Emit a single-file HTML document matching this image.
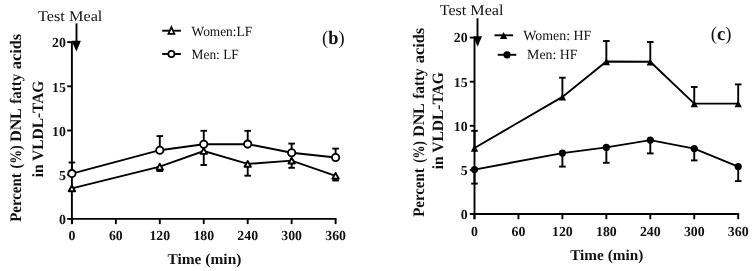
<!DOCTYPE html>
<html><head><meta charset="utf-8"><style>
html,body{margin:0;padding:0;background:#fff;}
body{width:752px;height:271px;overflow:hidden;}
svg{display:block;will-change:transform;text-rendering:geometricPrecision;font-family:"Liberation Serif",serif;}
text{fill:#111;}
</style></head><body>
<svg width="752" height="271" viewBox="0 0 752 271">
<rect width="752" height="271" fill="#fff"/>
<line x1="71.90" y1="42.10" x2="71.90" y2="224.10" stroke="#000" stroke-width="1.9"/>
<line x1="70.95" y1="218.90" x2="336.55" y2="218.90" stroke="#000" stroke-width="1.9"/>
<line x1="67.20" y1="218.90" x2="71.90" y2="218.90" stroke="#000" stroke-width="1.9"/>
<text x="65.90" y="224.20" font-size="13.8" font-weight="bold" text-anchor="end">0</text>
<line x1="67.20" y1="174.70" x2="71.90" y2="174.70" stroke="#000" stroke-width="1.9"/>
<text x="65.90" y="180.00" font-size="13.8" font-weight="bold" text-anchor="end">5</text>
<line x1="67.20" y1="130.50" x2="71.90" y2="130.50" stroke="#000" stroke-width="1.9"/>
<text x="65.90" y="135.80" font-size="13.8" font-weight="bold" text-anchor="end">10</text>
<line x1="67.20" y1="86.30" x2="71.90" y2="86.30" stroke="#000" stroke-width="1.9"/>
<text x="65.90" y="91.60" font-size="13.8" font-weight="bold" text-anchor="end">15</text>
<line x1="67.20" y1="42.10" x2="71.90" y2="42.10" stroke="#000" stroke-width="1.9"/>
<text x="65.90" y="47.40" font-size="13.8" font-weight="bold" text-anchor="end">20</text>
<line x1="71.90" y1="218.90" x2="71.90" y2="224.10" stroke="#000" stroke-width="1.9"/>
<text x="71.90" y="240.40" font-size="13.8" font-weight="bold" text-anchor="middle">0</text>
<line x1="115.85" y1="218.90" x2="115.85" y2="224.10" stroke="#000" stroke-width="1.9"/>
<text x="115.85" y="240.40" font-size="13.8" font-weight="bold" text-anchor="middle">60</text>
<line x1="159.80" y1="218.90" x2="159.80" y2="224.10" stroke="#000" stroke-width="1.9"/>
<text x="159.80" y="240.40" font-size="13.8" font-weight="bold" text-anchor="middle">120</text>
<line x1="203.75" y1="218.90" x2="203.75" y2="224.10" stroke="#000" stroke-width="1.9"/>
<text x="203.75" y="240.40" font-size="13.8" font-weight="bold" text-anchor="middle">180</text>
<line x1="247.70" y1="218.90" x2="247.70" y2="224.10" stroke="#000" stroke-width="1.9"/>
<text x="247.70" y="240.40" font-size="13.8" font-weight="bold" text-anchor="middle">240</text>
<line x1="291.65" y1="218.90" x2="291.65" y2="224.10" stroke="#000" stroke-width="1.9"/>
<text x="291.65" y="240.40" font-size="13.8" font-weight="bold" text-anchor="middle">300</text>
<line x1="335.60" y1="218.90" x2="335.60" y2="224.10" stroke="#000" stroke-width="1.9"/>
<text x="335.60" y="240.40" font-size="13.8" font-weight="bold" text-anchor="middle">360</text>
<line x1="159.80" y1="166.70" x2="159.80" y2="171.00" stroke="#000" stroke-width="1.9"/>
<line x1="156.50" y1="171.00" x2="163.10" y2="171.00" stroke="#000" stroke-width="1.9"/>
<line x1="203.75" y1="151.00" x2="203.75" y2="165.00" stroke="#000" stroke-width="1.9"/>
<line x1="200.45" y1="165.00" x2="207.05" y2="165.00" stroke="#000" stroke-width="1.9"/>
<line x1="247.70" y1="163.90" x2="247.70" y2="175.70" stroke="#000" stroke-width="1.9"/>
<line x1="244.40" y1="175.70" x2="251.00" y2="175.70" stroke="#000" stroke-width="1.9"/>
<line x1="291.65" y1="160.60" x2="291.65" y2="167.80" stroke="#000" stroke-width="1.9"/>
<line x1="288.35" y1="167.80" x2="294.95" y2="167.80" stroke="#000" stroke-width="1.9"/>
<line x1="335.60" y1="175.80" x2="335.60" y2="180.50" stroke="#000" stroke-width="1.9"/>
<line x1="332.30" y1="180.50" x2="338.90" y2="180.50" stroke="#000" stroke-width="1.9"/>
<polyline points="71.90,188.40 159.80,166.70 203.75,151.00 247.70,163.90 291.65,160.60 335.60,175.80" fill="none" stroke="#000" stroke-width="1.9" stroke-linejoin="miter"/>
<polygon points="71.90,185.50 75.10,191.30 68.70,191.30" fill="#fff" stroke="#000" stroke-width="1.9" stroke-linejoin="round"/>
<polygon points="159.80,163.80 163.00,169.60 156.60,169.60" fill="#fff" stroke="#000" stroke-width="1.9" stroke-linejoin="round"/>
<polygon points="203.75,148.10 206.95,153.90 200.55,153.90" fill="#fff" stroke="#000" stroke-width="1.9" stroke-linejoin="round"/>
<polygon points="247.70,161.00 250.90,166.80 244.50,166.80" fill="#fff" stroke="#000" stroke-width="1.9" stroke-linejoin="round"/>
<polygon points="291.65,157.70 294.85,163.50 288.45,163.50" fill="#fff" stroke="#000" stroke-width="1.9" stroke-linejoin="round"/>
<polygon points="335.60,172.90 338.80,178.70 332.40,178.70" fill="#fff" stroke="#000" stroke-width="1.9" stroke-linejoin="round"/>
<line x1="71.90" y1="173.60" x2="71.90" y2="162.50" stroke="#000" stroke-width="1.9"/>
<line x1="68.60" y1="162.50" x2="75.20" y2="162.50" stroke="#000" stroke-width="1.9"/>
<line x1="159.80" y1="150.20" x2="159.80" y2="136.10" stroke="#000" stroke-width="1.9"/>
<line x1="156.50" y1="136.10" x2="163.10" y2="136.10" stroke="#000" stroke-width="1.9"/>
<line x1="203.75" y1="144.20" x2="203.75" y2="130.80" stroke="#000" stroke-width="1.9"/>
<line x1="200.45" y1="130.80" x2="207.05" y2="130.80" stroke="#000" stroke-width="1.9"/>
<line x1="247.70" y1="144.10" x2="247.70" y2="130.80" stroke="#000" stroke-width="1.9"/>
<line x1="244.40" y1="130.80" x2="251.00" y2="130.80" stroke="#000" stroke-width="1.9"/>
<line x1="291.65" y1="152.70" x2="291.65" y2="143.60" stroke="#000" stroke-width="1.9"/>
<line x1="288.35" y1="143.60" x2="294.95" y2="143.60" stroke="#000" stroke-width="1.9"/>
<line x1="335.60" y1="157.50" x2="335.60" y2="148.60" stroke="#000" stroke-width="1.9"/>
<line x1="332.30" y1="148.60" x2="338.90" y2="148.60" stroke="#000" stroke-width="1.9"/>
<polyline points="71.90,173.60 159.80,150.20 203.75,144.20 247.70,144.10 291.65,152.70 335.60,157.50" fill="none" stroke="#000" stroke-width="1.9" stroke-linejoin="miter"/>
<circle cx="71.90" cy="173.60" r="3.65" fill="#fff" stroke="#000" stroke-width="1.85"/>
<circle cx="159.80" cy="150.20" r="3.65" fill="#fff" stroke="#000" stroke-width="1.85"/>
<circle cx="203.75" cy="144.20" r="3.65" fill="#fff" stroke="#000" stroke-width="1.85"/>
<circle cx="247.70" cy="144.10" r="3.65" fill="#fff" stroke="#000" stroke-width="1.85"/>
<circle cx="291.65" cy="152.70" r="3.65" fill="#fff" stroke="#000" stroke-width="1.85"/>
<circle cx="335.60" cy="157.50" r="3.65" fill="#fff" stroke="#000" stroke-width="1.85"/>
<line x1="76.50" y1="23.40" x2="76.50" y2="42.00" stroke="#000" stroke-width="1.9"/>
<polygon points="71.6,40.8 80.9,40.8 76.4,51.5" fill="#000"/>
<text x="38.00" y="20.60" font-size="15" font-weight="normal" text-anchor="start" textLength="64.4" lengthAdjust="spacingAndGlyphs">Test Meal</text>
<line x1="162.20" y1="30.70" x2="180.90" y2="30.70" stroke="#000" stroke-width="1.9"/>
<polygon points="171.4,27.2 174.4,33.9 168.4,33.9" fill="#fff" stroke="#000" stroke-width="1.7"/>
<line x1="162.20" y1="54.00" x2="180.90" y2="54.00" stroke="#000" stroke-width="1.9"/>
<circle cx="171.4" cy="54.0" r="3.1" fill="#fff" stroke="#000" stroke-width="1.7"/>
<text x="191.60" y="35.60" font-size="14" font-weight="normal" text-anchor="start" textLength="60.5" lengthAdjust="spacingAndGlyphs">Women:LF</text>
<text x="191.60" y="59.10" font-size="14" font-weight="normal" text-anchor="start" textLength="47.2" lengthAdjust="spacingAndGlyphs">Men: LF</text>
<text x="322.1" y="44.3" font-size="19" textLength="22.4" lengthAdjust="spacingAndGlyphs">(<tspan font-weight="bold">b</tspan>)</text>
<text x="167.40" y="264.30" font-size="15" font-weight="bold" text-anchor="start" textLength="74.0" lengthAdjust="spacingAndGlyphs">Time (min)</text>
<text transform="translate(20.5,221.78) rotate(-90)" font-size="16.1" font-weight="bold" textLength="48.49" lengthAdjust="spacingAndGlyphs">Percent</text>
<text transform="translate(20.5,168.39) rotate(-90)" font-size="16.1" font-weight="bold" textLength="23.13" lengthAdjust="spacingAndGlyphs">(%)</text>
<text transform="translate(20.5,141.81) rotate(-90)" font-size="16.1" font-weight="bold" textLength="33.53" lengthAdjust="spacingAndGlyphs">DNL</text>
<text transform="translate(20.5,103.78) rotate(-90)" font-size="16.1" font-weight="bold" textLength="29.98" lengthAdjust="spacingAndGlyphs">fatty</text>
<text transform="translate(20.5,69.30) rotate(-90)" font-size="16.1" font-weight="bold" textLength="35.50" lengthAdjust="spacingAndGlyphs">acids</text>
<text transform="translate(42.5,177.3) rotate(-90)" font-size="15.8" font-weight="bold" textLength="96.6" lengthAdjust="spacingAndGlyphs">in VLDL-TAG</text>
<line x1="474.50" y1="37.60" x2="474.50" y2="219.20" stroke="#000" stroke-width="1.9"/>
<line x1="473.55" y1="214.00" x2="739.15" y2="214.00" stroke="#000" stroke-width="1.9"/>
<line x1="469.80" y1="214.00" x2="474.50" y2="214.00" stroke="#000" stroke-width="1.9"/>
<text x="467.60" y="218.80" font-size="13.8" font-weight="bold" text-anchor="end">0</text>
<line x1="469.80" y1="169.90" x2="474.50" y2="169.90" stroke="#000" stroke-width="1.9"/>
<text x="467.60" y="174.70" font-size="13.8" font-weight="bold" text-anchor="end">5</text>
<line x1="469.80" y1="125.80" x2="474.50" y2="125.80" stroke="#000" stroke-width="1.9"/>
<text x="467.60" y="130.60" font-size="13.8" font-weight="bold" text-anchor="end">10</text>
<line x1="469.80" y1="81.70" x2="474.50" y2="81.70" stroke="#000" stroke-width="1.9"/>
<text x="467.60" y="86.50" font-size="13.8" font-weight="bold" text-anchor="end">15</text>
<line x1="469.80" y1="37.60" x2="474.50" y2="37.60" stroke="#000" stroke-width="1.9"/>
<text x="467.60" y="42.40" font-size="13.8" font-weight="bold" text-anchor="end">20</text>
<line x1="474.50" y1="214.00" x2="474.50" y2="219.20" stroke="#000" stroke-width="1.9"/>
<text x="474.50" y="235.50" font-size="13.8" font-weight="bold" text-anchor="middle">0</text>
<line x1="518.45" y1="214.00" x2="518.45" y2="219.20" stroke="#000" stroke-width="1.9"/>
<text x="518.45" y="235.50" font-size="13.8" font-weight="bold" text-anchor="middle">60</text>
<line x1="562.40" y1="214.00" x2="562.40" y2="219.20" stroke="#000" stroke-width="1.9"/>
<text x="562.40" y="235.50" font-size="13.8" font-weight="bold" text-anchor="middle">120</text>
<line x1="606.35" y1="214.00" x2="606.35" y2="219.20" stroke="#000" stroke-width="1.9"/>
<text x="606.35" y="235.50" font-size="13.8" font-weight="bold" text-anchor="middle">180</text>
<line x1="650.30" y1="214.00" x2="650.30" y2="219.20" stroke="#000" stroke-width="1.9"/>
<text x="650.30" y="235.50" font-size="13.8" font-weight="bold" text-anchor="middle">240</text>
<line x1="694.25" y1="214.00" x2="694.25" y2="219.20" stroke="#000" stroke-width="1.9"/>
<text x="694.25" y="235.50" font-size="13.8" font-weight="bold" text-anchor="middle">300</text>
<line x1="738.20" y1="214.00" x2="738.20" y2="219.20" stroke="#000" stroke-width="1.9"/>
<text x="738.20" y="235.50" font-size="13.8" font-weight="bold" text-anchor="middle">360</text>
<line x1="474.50" y1="148.00" x2="474.50" y2="130.80" stroke="#000" stroke-width="1.9"/>
<line x1="471.20" y1="130.80" x2="477.80" y2="130.80" stroke="#000" stroke-width="1.9"/>
<line x1="562.40" y1="96.90" x2="562.40" y2="77.70" stroke="#000" stroke-width="1.9"/>
<line x1="559.10" y1="77.70" x2="565.70" y2="77.70" stroke="#000" stroke-width="1.9"/>
<line x1="606.35" y1="61.50" x2="606.35" y2="41.00" stroke="#000" stroke-width="1.9"/>
<line x1="603.05" y1="41.00" x2="609.65" y2="41.00" stroke="#000" stroke-width="1.9"/>
<line x1="650.30" y1="61.70" x2="650.30" y2="42.00" stroke="#000" stroke-width="1.9"/>
<line x1="647.00" y1="42.00" x2="653.60" y2="42.00" stroke="#000" stroke-width="1.9"/>
<line x1="694.25" y1="103.60" x2="694.25" y2="87.00" stroke="#000" stroke-width="1.9"/>
<line x1="690.95" y1="87.00" x2="697.55" y2="87.00" stroke="#000" stroke-width="1.9"/>
<line x1="738.20" y1="103.60" x2="738.20" y2="84.40" stroke="#000" stroke-width="1.9"/>
<line x1="734.90" y1="84.40" x2="741.50" y2="84.40" stroke="#000" stroke-width="1.9"/>
<polyline points="474.50,148.00 562.40,96.90 606.35,61.50 650.30,61.70 694.25,103.60 738.20,103.60" fill="none" stroke="#000" stroke-width="1.9" stroke-linejoin="miter"/>
<polygon points="474.50,144.80 478.20,151.70 470.80,151.70" fill="#000"/>
<polygon points="562.40,93.70 566.10,100.60 558.70,100.60" fill="#000"/>
<polygon points="606.35,58.30 610.05,65.20 602.65,65.20" fill="#000"/>
<polygon points="650.30,58.50 654.00,65.40 646.60,65.40" fill="#000"/>
<polygon points="694.25,100.40 697.95,107.30 690.55,107.30" fill="#000"/>
<polygon points="738.20,100.40 741.90,107.30 734.50,107.30" fill="#000"/>
<line x1="474.50" y1="169.60" x2="474.50" y2="183.60" stroke="#000" stroke-width="1.9"/>
<line x1="471.20" y1="183.60" x2="477.80" y2="183.60" stroke="#000" stroke-width="1.9"/>
<line x1="562.40" y1="153.10" x2="562.40" y2="166.60" stroke="#000" stroke-width="1.9"/>
<line x1="559.10" y1="166.60" x2="565.70" y2="166.60" stroke="#000" stroke-width="1.9"/>
<line x1="606.35" y1="147.40" x2="606.35" y2="162.80" stroke="#000" stroke-width="1.9"/>
<line x1="603.05" y1="162.80" x2="609.65" y2="162.80" stroke="#000" stroke-width="1.9"/>
<line x1="650.30" y1="140.10" x2="650.30" y2="153.40" stroke="#000" stroke-width="1.9"/>
<line x1="647.00" y1="153.40" x2="653.60" y2="153.40" stroke="#000" stroke-width="1.9"/>
<line x1="694.25" y1="148.60" x2="694.25" y2="160.40" stroke="#000" stroke-width="1.9"/>
<line x1="690.95" y1="160.40" x2="697.55" y2="160.40" stroke="#000" stroke-width="1.9"/>
<line x1="738.20" y1="166.60" x2="738.20" y2="181.10" stroke="#000" stroke-width="1.9"/>
<line x1="734.90" y1="181.10" x2="741.50" y2="181.10" stroke="#000" stroke-width="1.9"/>
<polyline points="474.50,169.60 562.40,153.10 606.35,147.40 650.30,140.10 694.25,148.60 738.20,166.60" fill="none" stroke="#000" stroke-width="1.9" stroke-linejoin="miter"/>
<circle cx="474.50" cy="169.60" r="3.6" fill="#000"/>
<circle cx="562.40" cy="153.10" r="3.6" fill="#000"/>
<circle cx="606.35" cy="147.40" r="3.6" fill="#000"/>
<circle cx="650.30" cy="140.10" r="3.6" fill="#000"/>
<circle cx="694.25" cy="148.60" r="3.6" fill="#000"/>
<circle cx="738.20" cy="166.60" r="3.6" fill="#000"/>
<line x1="477.50" y1="18.20" x2="477.50" y2="37.00" stroke="#000" stroke-width="1.9"/>
<polygon points="473.3,36.2 482.0,36.2 477.6,46.8" fill="#000"/>
<text x="439.70" y="15.00" font-size="15" font-weight="normal" text-anchor="start" textLength="63.8" lengthAdjust="spacingAndGlyphs">Test Meal</text>
<line x1="494.50" y1="35.30" x2="513.10" y2="35.30" stroke="#000" stroke-width="1.9"/>
<polygon points="503.60,32.10 507.30,39.00 499.90,39.00" fill="#000"/>
<line x1="497.70" y1="54.80" x2="516.30" y2="54.80" stroke="#000" stroke-width="1.9"/>
<circle cx="507.00" cy="54.80" r="3.6" fill="#000"/>
<text x="523.20" y="39.90" font-size="14" font-weight="normal" text-anchor="start" textLength="68.1" lengthAdjust="spacingAndGlyphs">Women: HF</text>
<text x="527.10" y="59.30" font-size="14" font-weight="normal" text-anchor="start" textLength="50.3" lengthAdjust="spacingAndGlyphs">Men: HF</text>
<text x="710.8" y="40.2" font-size="19" textLength="20.8" lengthAdjust="spacingAndGlyphs">(<tspan font-weight="bold">c</tspan>)</text>
<text x="570.20" y="260.10" font-size="15" font-weight="bold" text-anchor="start" textLength="73.2" lengthAdjust="spacingAndGlyphs">Time (min)</text>
<text transform="translate(423.5,216.78) rotate(-90)" font-size="16.1" font-weight="bold" textLength="48.49" lengthAdjust="spacingAndGlyphs">Percent</text>
<text transform="translate(423.5,162.82) rotate(-90)" font-size="16.1" font-weight="bold" textLength="21.55" lengthAdjust="spacingAndGlyphs">(%)</text>
<text transform="translate(423.5,136.83) rotate(-90)" font-size="16.1" font-weight="bold" textLength="33.55" lengthAdjust="spacingAndGlyphs">DNL</text>
<text transform="translate(423.5,98.80) rotate(-90)" font-size="16.1" font-weight="bold" textLength="30.50" lengthAdjust="spacingAndGlyphs">fatty</text>
<text transform="translate(423.5,63.30) rotate(-90)" font-size="16.1" font-weight="bold" textLength="35.50" lengthAdjust="spacingAndGlyphs">acids</text>
<text transform="translate(442.5,169.3) rotate(-90)" font-size="15.8" font-weight="bold" textLength="97.1" lengthAdjust="spacingAndGlyphs">in VLDL-TAG</text>
</svg>
</body></html>
